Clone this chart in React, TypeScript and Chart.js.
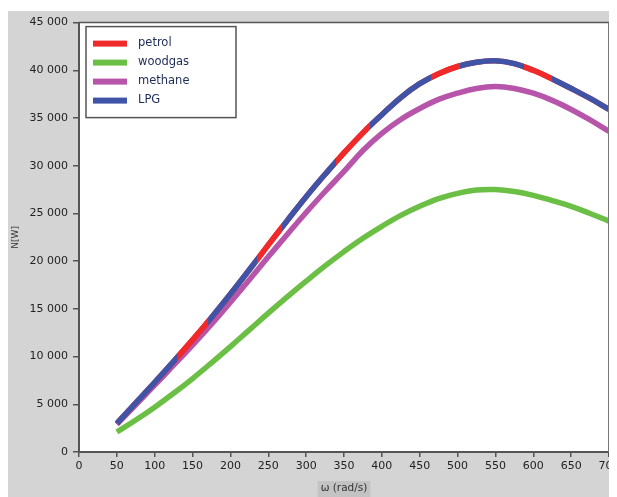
import React, { useEffect, useRef } from "react";
import { Chart, registerables } from "chart.js";

Chart.register(...registerables);

// ---- data ----
const omega = [50, 75, 100, 125, 150, 175, 200, 225, 250, 275, 300, 325, 350, 375, 400, 425, 450, 475, 500, 525, 550, 575, 600, 625, 650, 675, 700];
const petrol = [3000, 5150, 7300, 9500, 11750, 14100, 16550, 19100, 21700, 24250, 26750, 29100, 31350, 33450, 35350, 37150, 38600, 39650, 40400, 40850, 41000, 40700, 40000, 39100, 38100, 37050, 35900];
const lpg = [3000, 5150, 7300, 9500, 11750, 14100, 16550, 19100, 21700, 24250, 26750, 29100, 31350, 33450, 35350, 37150, 38600, 39650, 40400, 40850, 41000, 40700, 40000, 39100, 38100, 37050, 35900];
const methane = [2900, 4950, 7000, 9100, 11200, 13400, 15700, 18050, 20450, 22800, 25100, 27300, 29400, 31600, 33400, 34850, 36000, 36950, 37600, 38100, 38300, 38100, 37600, 36850, 35900, 34800, 33600];
const woodgas = [2100, 3350, 4700, 6150, 7700, 9350, 11050, 12800, 14550, 16250, 17900, 19500, 21000, 22400, 23650, 24800, 25750, 26550, 27100, 27450, 27500, 27300, 26900, 26350, 25750, 25000, 24200];
const seriesNames = ["petrol", "woodgas", "methane", "LPG"];
const xTicks = { min: 0, max: 700, step: 50 };
const yTicks = { min: 0, max: 45000, step: 5000 };

// ---- style ----
const RED = "#f02a2a";
const GREEN = "#6cbf45";
const MAGENTA = "#b655a9";
const BLUE = "#3f54a6";
const BG = "#d4d4d4";
// ω ranges where the petrol line shows above the LPG line in the picture
const petrolOnTop = [[130, 170], [235, 268], [340, 384], [465, 503], [588, 625]];

const fmt = (v: number) => String(v).replace(/\B(?=(\d{3})+(?!\d))/g, " ");

const bgPlugin = {
  id: "bgPlugin",
  beforeDraw(chart: any) {
    const { ctx, chartArea: a, scales } = chart;
    ctx.save();
    ctx.fillStyle = BG;
    ctx.fillRect(0, 0, chart.width, chart.height);
    ctx.fillStyle = "#ffffff";
    ctx.fillRect(a.left, a.top, a.right - a.left, a.bottom - a.top);
    // x title highlight
    const xs = scales.x;
    ctx.font = "10.5px 'DejaVu Sans'";
    const w = ctx.measureText("ω (rad/s)").width;
    const cx = (xs.left + xs.right) / 2;
    ctx.fillStyle = "#c3c3c3";
    ctx.fillRect(cx - w / 2 - 3, chart.height - 16, w + 6, 16);
    ctx.restore();
  },
  afterDraw(chart: any) {
    const { ctx, chartArea: a } = chart;
    ctx.save();
    ctx.strokeStyle = "#555";
    ctx.lineWidth = 1.5;
    ctx.beginPath();
    ctx.moveTo(a.left, a.top);
    ctx.lineTo(a.right, a.top);
    ctx.stroke();
    ctx.strokeStyle = "#777";
    ctx.lineWidth = 2;
    ctx.beginPath();
    ctx.moveTo(a.right, a.top);
    ctx.lineTo(a.right, a.bottom);
    ctx.stroke();
    // legend box
    const bx = a.left + 7, by = a.top + 4, bw = 150, bh = 91;
    ctx.fillStyle = "#fff";
    ctx.fillRect(bx, by, bw, bh);
    ctx.strokeStyle = "#555";
    ctx.lineWidth = 1.5;
    ctx.strokeRect(bx, by, bw, bh);
    const cols = [RED, GREEN, MAGENTA, BLUE];
    ctx.font = "11.5px 'DejaVu Sans'";
    ctx.textBaseline = "middle";
    ctx.textAlign = "left";
    seriesNames.forEach((n, i) => {
      const y = by + 17 + i * 19;
      ctx.fillStyle = cols[i];
      ctx.fillRect(bx + 7, y - 3, 34, 6);
      ctx.fillStyle = "#1d2b58";
      ctx.fillText(n, bx + 52, y - 1);
    });
    ctx.restore();
  },
};

export default function App() {
  const ref = useRef<HTMLCanvasElement>(null);
  useEffect(() => {
    if (!ref.current) return;
    const toXY = (arr: number[]) => omega.map((x, i) => ({ x, y: arr[i] }));
    const lpgColor = (c: any) => {
      const chart = c.chart;
      const xs = chart.scales && chart.scales.x;
      if (!chart.chartArea || !xs) return BLUE;
      const x0 = xs.getPixelForValue(0), x1 = xs.getPixelForValue(700);
      const g = chart.ctx.createLinearGradient(x0, 0, x1, 0);
      g.addColorStop(0, BLUE);
      petrolOnTop.forEach(([a, b]) => {
        g.addColorStop(a / 700, BLUE);
        g.addColorStop(a / 700, RED);
        g.addColorStop(b / 700, RED);
        g.addColorStop(b / 700, BLUE);
      });
      g.addColorStop(1, BLUE);
      return g;
    };
    const common = { pointRadius: 0, borderWidth: 5.5, tension: 0.4, fill: false };
    // Chart.js paints the first dataset last (on top)
    const chart = new Chart(ref.current, {
      type: "line",
      data: {
        datasets: [
          { label: seriesNames[3], data: toXY(lpg), borderColor: lpgColor, ...common },
          { label: seriesNames[0], data: toXY(petrol), borderColor: RED, ...common },
          { label: seriesNames[2], data: toXY(methane), borderColor: MAGENTA, ...common },
          { label: seriesNames[1], data: toXY(woodgas), borderColor: GREEN, ...common },
        ],
      },
      options: {
        animation: false,
        responsive: false,
        layout: { padding: { top: 10, right: 8, left: 0, bottom: 0 } },
        plugins: { legend: { display: false }, tooltip: { enabled: false } },
        scales: {
          x: {
            type: "linear",
            min: xTicks.min,
            max: xTicks.max,
            ticks: { stepSize: xTicks.step, color: "#222", font: { family: "'DejaVu Sans'", size: 11 }, padding: 3, maxRotation: 0, autoSkip: false },
            grid: { drawOnChartArea: false, drawTicks: true, tickLength: 5, color: "#555", lineWidth: 1.5 },
            border: { color: "#555", width: 2 },
            title: { display: true, text: "ω (rad/s)", color: "#333", font: { family: "'DejaVu Sans'", size: 10.5 }, padding: { top: 0, bottom: 2 } },
            afterFit: (s: any) => { s.height = 45; s.paddingLeft = 0; s.paddingRight = 0; },
          },
          y: {
            type: "linear",
            min: yTicks.min,
            max: yTicks.max,
            ticks: { stepSize: yTicks.step, color: "#222", font: { family: "'DejaVu Sans'", size: 11 }, padding: 5, callback: (v: any) => fmt(Number(v)) },
            grid: { drawOnChartArea: false, drawTicks: true, tickLength: 6, color: "#555", lineWidth: 1.5 },
            border: { color: "#555", width: 2 },
            title: { display: true, text: "N[W]", color: "#333", font: { family: "'DejaVu Sans'", size: 9 }, padding: { top: 2, bottom: 0 } },
            afterFit: (s: any) => { s.width = 71; },
          },
        },
      },
      plugins: [bgPlugin],
    });
    return () => chart.destroy();
  }, []);
  return (
    <div style={{ paddingTop: 3 }}>
      <canvas ref={ref} width={609} height={486} style={{ display: "block" }} />
    </div>
  );
}
